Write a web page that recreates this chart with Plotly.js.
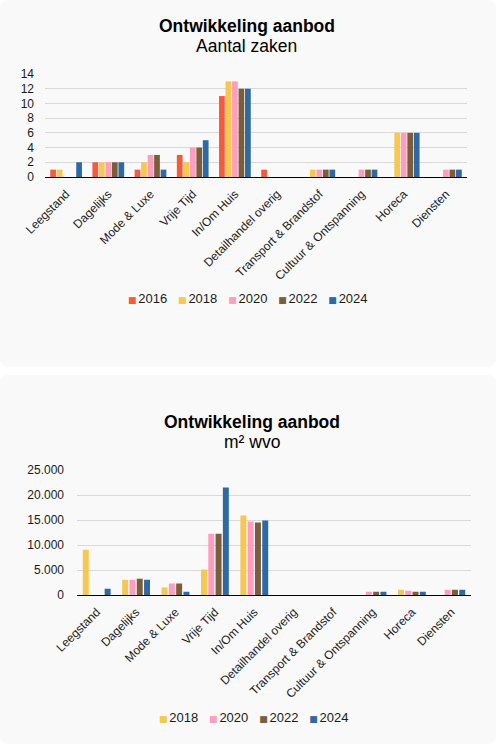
<!DOCTYPE html>
<html>
<head>
<meta charset="utf-8">
<script src="https://cdn.plot.ly/plotly-3.0.1.min.js"></script>
<style>
  html, body { margin:0; padding:0; background:#ffffff; width:496px; height:744px; overflow:hidden; }
  .panel { position:absolute; left:0; width:496px; background:#f9f9f9; border-radius:8px; }
  #c1 { top:0; height:367px; }
  #c2 { top:375px; height:369px; }
</style>
</head>
<body>
<div id="c1" class="panel"></div>
<div id="c2" class="panel"></div>
<script>
const categories = ['Leegstand','Dagelijks','Mode & Luxe','Vrije Tijd','In/Om Huis','Detailhandel overig','Transport & Brandstof','Cultuur & Ontspanning','Horeca','Diensten'];

const years1 = ['2016','2018','2020','2022','2024'];
const zaken2016 = [1, 2, 1, 3, 11, 1, 0, 0, 0, 0];
const zaken2018 = [1, 2, 2, 2, 13, 0, 1, 0, 6, 0];
const zaken2020 = [0, 2, 3, 4, 13, 0, 1, 1, 6, 1];
const zaken2022 = [0, 2, 3, 4, 12, 0, 1, 1, 6, 1];
const zaken2024 = [2, 2, 1, 5, 12, 0, 1, 1, 6, 1];

const years2 = ['2018','2020','2022','2024'];
const wvo2018 = [9050, 3050, 1500, 5100, 15900, 0, 0, 0, 1050, 0];
const wvo2020 = [0, 3050, 2300, 12250, 14700, 0, 0, 650, 850, 1050];
const wvo2022 = [0, 3250, 2300, 12250, 14500, 0, 0, 650, 650, 1050];
const wvo2024 = [1250, 3050, 650, 21500, 14900, 0, 0, 650, 650, 1050];

const ticks1 = [0, 2, 4, 6, 8, 10, 12, 14];
const ticks2 = [0, 5000, 10000, 15000, 20000, 25000];

const colors = {'2016':'#f8593b','2018':'#f6c751','2020':'#fe9ebf','2022':'#7a5e3c','2024':'#2e69a6'};
const FONT = 'Liberation Sans, Arial, sans-serif';
const NB = '\u00A0';

function traces(years, series) {
  return years.map((y, i) => ({
    type: 'bar', name: y, x: categories, y: series[i],
    marker: {color: colors[y]}, hoverinfo: 'x+y+name'
  }));
}

function legendText(years) {
  return years.map(y => `<span style="color:${colors[y]};font-size:9px;font-family:DejaVu Sans">■\u2009</span>${y}`).join(NB + NB + NB);
}

function baseLayout(opts) {
  const H = opts.height, t = opts.margin.t, b = opts.margin.b;
  const ph = H - t - b, bottomPx = H - b;
  const py = px => (bottomPx - px) / ph;
  return {
    width: 496, height: H,
    paper_bgcolor: 'rgba(0,0,0,0)', plot_bgcolor: 'rgba(0,0,0,0)',
    font: {family: FONT, color: '#1a1a1a'},
    separators: ',.',
    margin: opts.margin,
    bargap: opts.bargap, bargroupgap: opts.bargroupgap,
    barmode: 'group',
    showlegend: false,
    xaxis: {type: 'category', tickangle: -45, tickfont: {size: 12, family: FONT, color: '#1a1a1a'},
            showline: true, linecolor: '#000000', linewidth: 1.3, ticks: '', showgrid: false,
            ticklabelstandoff: 4, automargin: false},
    yaxis: {range: opts.yrange, tickvals: opts.ticks, tickformat: ',d',
            tickfont: {size: 12, family: FONT, color: '#1a1a1a'},
            showgrid: true, gridcolor: '#d9d9d9', gridwidth: 1, zeroline: false, showline: false,
            ticks: '', ticklabelstandoff: opts.standoff, automargin: false, fixedrange: true},
    annotations: [
      {text: '<b>Ontwikkeling aanbod</b>', xref: 'paper', yref: 'paper', x: opts.titleX, xanchor: 'center',
       y: py(opts.titlePx), yanchor: 'middle', showarrow: false, font: {size: 17.5, family: FONT, color: '#000'}},
      {text: opts.subtitle, xref: 'paper', yref: 'paper', x: opts.titleX, xanchor: 'center',
       y: py(opts.subPx), yanchor: 'middle', showarrow: false, font: {size: 17.5, family: FONT, color: '#000'}},
      {text: legendText(opts.years), xref: 'paper', yref: 'paper', x: opts.legendX, xanchor: 'center',
       y: py(opts.legendPx), yanchor: 'middle', showarrow: false, font: {size: 13, family: FONT, color: '#1a1a1a'}}
    ]
  };
}

const layout1 = baseLayout({
  height: 367, margin: {l: 45, r: 29, t: 74, b: 190, pad: 0},
  bargap: 0.23, bargroupgap: 0.12, years: years1,
  yrange: [0, 14], ticks: ticks1, standoff: 10,
  titleX: (246.5 - 45) / (496 - 45 - 29), legendX: (248 - 45) / (496 - 45 - 29),
  titlePx: 26, subPx: 46, legendPx: 298, subtitle: 'Aantal zaken'
});
const layout2 = baseLayout({
  height: 369, margin: {l: 77, r: 25, t: 95, b: 149, pad: 0},
  bargap: 0.26, bargroupgap: 0.18, years: years2,
  yrange: [0, 25000], ticks: ticks2, standoff: 12,
  titleX: (251.5 - 77) / (496 - 77 - 25), legendX: (253 - 77) / (496 - 77 - 25),
  titlePx: 47, subPx: 67, legendPx: 342.5, subtitle: 'm² wvo'
});

Plotly.newPlot('c1', traces(years1, [zaken2016, zaken2018, zaken2020, zaken2022, zaken2024]), layout1, {displayModeBar: false, staticPlot: true});
Plotly.newPlot('c2', traces(years2, [wvo2018, wvo2020, wvo2022, wvo2024]), layout2, {displayModeBar: false, staticPlot: true});
</script>
</body>
</html>
